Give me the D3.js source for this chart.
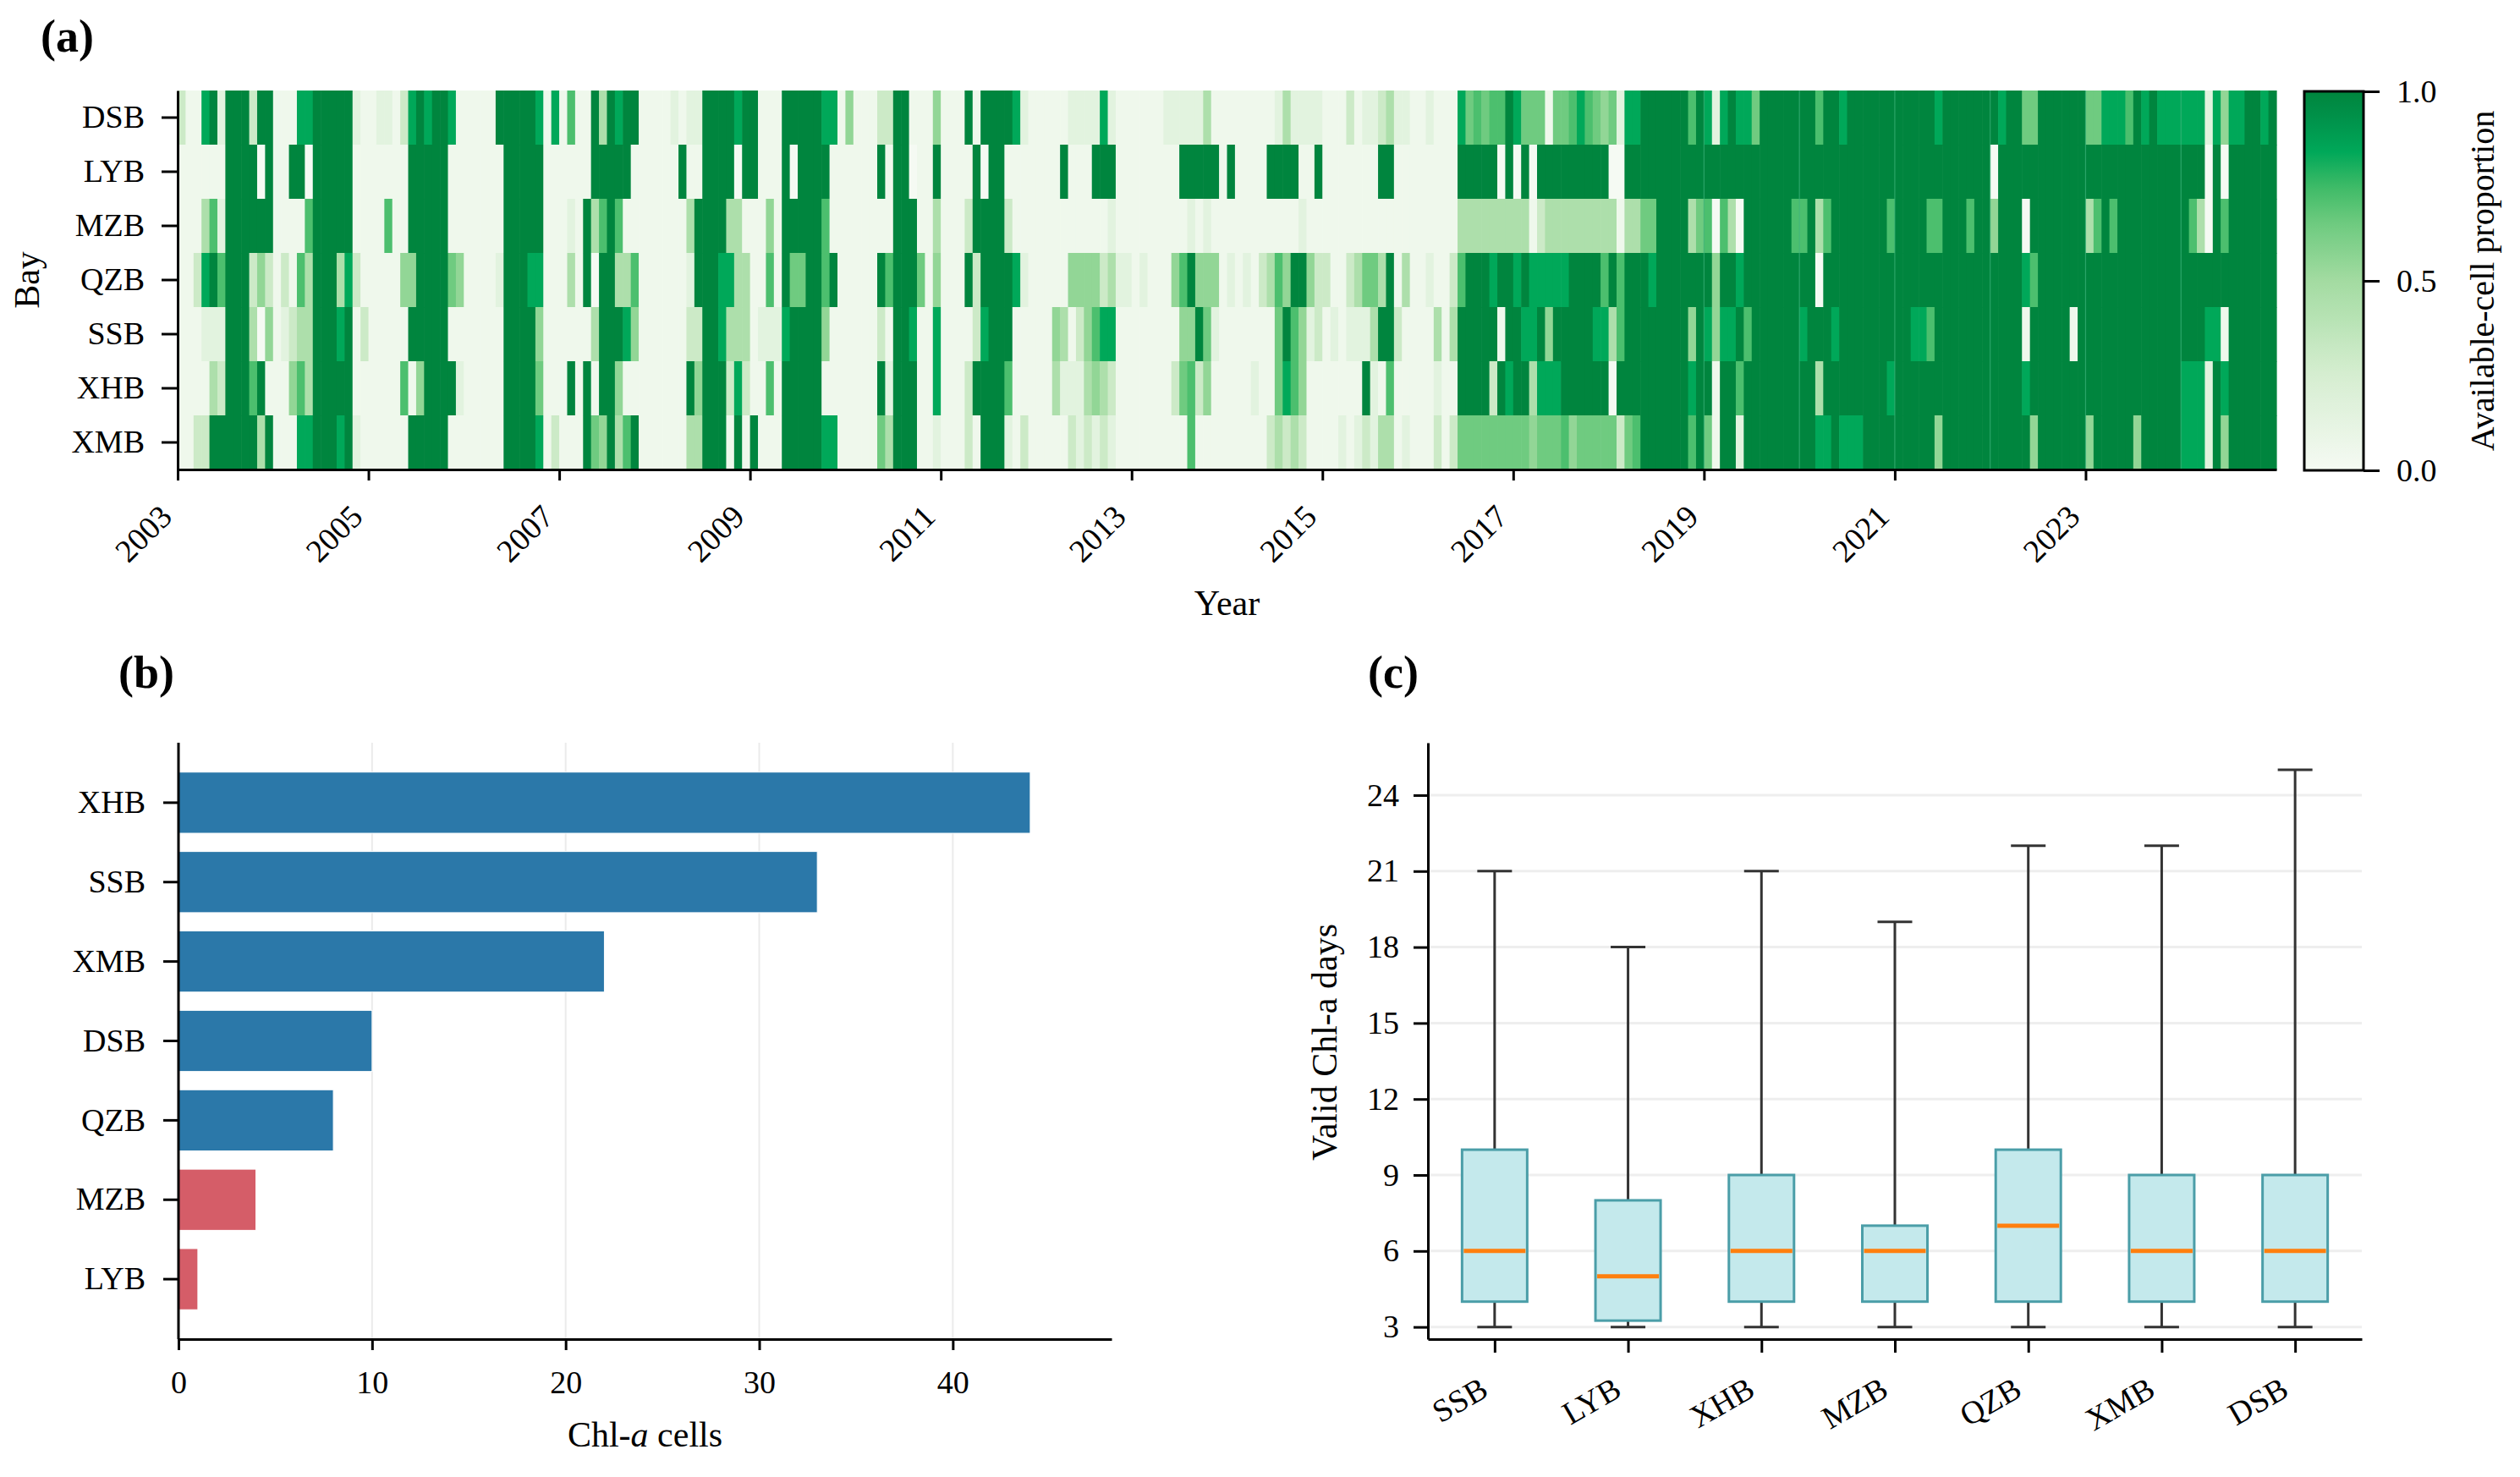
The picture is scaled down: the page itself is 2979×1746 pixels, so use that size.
<!DOCTYPE html>
<html>
<head>
<meta charset="utf-8">
<script src="https://cdn.jsdelivr.net/npm/d3@7"></script>
<style>
  body { margin: 0; background: #fff; }
  svg text { font-family: 'Liberation Serif', 'Times New Roman', serif; fill: #000; }
</style>
</head>
<body>
<div id="chart"></div>
<script>
/* Data
-----------------------------------------------------------------------------*/
// (a) monthly available-cell proportion, one 12-char string per year (2003-2024),
// each char is a level index into LEVELS
const bays = ['DSB', 'LYB', 'MZB', 'QZB', 'SSB', 'XHB', 'XMB'];
const startYear = 2003;
const endYear = 2025;
const LEVELS = [0, 0.05, 0.15, 0.3, 0.45, 0.55, 0.65, 0.72, 0.84, 1.0];

const DSB = ['311892999399', '111889999921', '122138989981', '111199999818', '171194989911', '112122999989',
  '911199999881', '511133991115', '111919999821', '111122228211', '111122222411', '111111242222',
  '111312234221', '121118676779', '866616678765', '628899999979', '828988699999', '997998999999',
  '999998999999', '989966999999', '668887989888', '888285889989'];
const LYB = ['111111999909', '119909999911', '111119999911', '111119999911', '111199999111', '111911999909',
  '911190999911', '111191990119', '111190991111', '111911199911', '111111999991', '911119999119',
  '111111199111', '111119999909', '090999999999', '009999999999', '999999999999', '999999999999',
  '999999999999', '099999999999', '999999999999', '999090999999'];
const MZB = ['111472999999', '111179999911', '117119999911', '111119999911', '121947971111', '111149999441',
  '115199999711', '111111999114', '111399993111', '111111111211', '111111121211', '111111111211',
  '111111111111', '111114444444', '441344444444', '414466999946', '707409999997', '794799999997',
  '999977999799', '599909999999', '479799999999', '974097999999'];
const QZB = ['113897999353', '131749994831', '111155999965', '111129998811', '141909944711', '111129998844',
  '117196699791', '111197999615', '111939999821', '111155553422', '121115795551', '212134759953',
  '311346649141', '121137999899', '898888899997', '979998999999', '959989999999', '990999999999',
  '999999999999', '999987999999', '999999999999', '999999999999'];
const SSB = ['111222999405', '123449998913', '111119999911', '111119999511', '111149998511', '111133998444',
  '122289999511', '111131998118', '111138999111', '115413578811', '111111559621', '111111697523',
  '121222499311', '114149999919', '988959999988', '479999999959', '858897999999', '899989999999',
  '998879999999', '999919999919', '999999999999', '999881999999'];
const XHB = ['111143999791', '115749999911', '111171599992', '111119999611', '191919951111', '111195999383',
  '117199999111', '111192999118', '111399997111', '114222454311', '111113673511', '111211687511',
  '111119217111', '112119999398', '994888999999', '099999999989', '919979999999', '994999999998',
  '999999999999', '999989999999', '999999999999', '888298999999'];
const XMB = ['113399999949', '111889998921', '111119999911', '111119999813', '111965947911', '111144999191',
  '911199999881', '111164999112', '111319992131', '111132323211', '111111171111', '111113434311',
  '112123244121', '113136666666', '665666756666', '636799999979', '619929999999', '998898889999',
  '999995999999', '999995999999', '599999599999', '888295999999'];

const yearTicks = [2003, 2005, 2007, 2009, 2011, 2013, 2015, 2017, 2019, 2021, 2023];
const seamYears = [2019, 2020, 2021, 2022, 2023, 2024];
const colourbarTicks = [0, 0.5, 1.0];

// (b) Chl-a cells per bay
const cellBays = ['XHB', 'SSB', 'XMB', 'DSB', 'QZB', 'MZB', 'LYB'];
const cellCounts = [44, 33, 22, 10, 8, 4, 1];
const cellTicks = [0, 10, 20, 30, 40];
const LOW_CELL_THRESHOLD = 5;

// (c) valid Chl-a days per bay (box plot stats)
const boxBays = ['SSB', 'LYB', 'XHB', 'MZB', 'QZB', 'XMB', 'DSB'];
const boxMin = [3, 3, 3, 3, 3, 3, 3];
const boxQ1 = [4, 3.25, 4, 4, 4, 4, 4];
const boxMedian = [6, 5, 6, 6, 7, 6, 6];
const boxQ3 = [10, 8, 9, 7, 10, 9, 9];
const boxMax = [21, 18, 21, 19, 22, 22, 25];
const dayTicks = [3, 6, 9, 12, 15, 18, 21, 24];

const series = { DSB, LYB, MZB, QZB, SSB, XHB, XMB };

/* Setup
-----------------------------------------------------------------------------*/
const width = 2979;
const height = 1746;
const tickFont = 38;
const labelFont = 42;

const svg = d3
  .select('#chart')
  .append('svg')
  .attr('width', width)
  .attr('height', height)
  .attr('xmlns', 'http://www.w3.org/2000/svg');

svg.append('rect').attr('width', width).attr('height', height).attr('fill', '#fff');

const colour = d3
  .scaleLinear()
  .domain([0, 0.25, 0.5, 0.65, 0.75, 0.84, 0.93, 1])
  .range(['#f5faf3', '#d6eed1', '#a3dba1', '#6fcb80', '#3dba66', '#00a859', '#00924a', '#00853e'])
  .clamp(true);

function decode(yearStrings) {
  return yearStrings.join('').split('').map((c) => LEVELS[+c]);
}

function styleAxis(g, fontSize = tickFont) {
  g.selectAll('path, line').attr('stroke', '#000').attr('stroke-width', 3);
  g.selectAll('text').attr('font-size', fontSize).attr('fill', '#000');
  g.attr('font-family', null);
}

function panelLabel(text, x, y) {
  svg
    .append('text')
    .attr('x', x)
    .attr('y', y)
    .attr('font-size', 54)
    .attr('font-weight', 'bold')
    .text(text);
}

/* (a) Heatmap
-----------------------------------------------------------------------------*/
function drawHeatmap() {
  const x = d3.scaleLinear().domain([startYear, endYear]).range([210, 2691]);
  const y = d3.scaleBand().domain(bays).range([107, 555]);
  const monthWidth = x(startYear + 1 / 12) - x(startYear);

  const cells = svg.append('g').attr('class', 'cells');

  bays.forEach((bay) => {
    cells
      .selectAll(null)
      .data(decode(series[bay]))
      .enter()
      .append('rect')
      .attr('x', (v, i) => x(startYear + i / 12))
      .attr('y', y(bay))
      .attr('width', monthWidth + 0.6)
      .attr('height', y.bandwidth() + 0.5)
      .attr('fill', (v) => colour(v));
  });

  // faint seams between yearly blocks in the later years
  cells
    .selectAll('line.seam')
    .data(seamYears)
    .enter()
    .append('line')
    .attr('class', 'seam')
    .attr('x1', (d) => x(d))
    .attr('x2', (d) => x(d))
    .attr('y1', 107)
    .attr('y2', 555)
    .attr('stroke', '#3cb27a')
    .attr('stroke-opacity', 0.7)
    .attr('stroke-width', 1.2);

  const xAxis = svg
    .append('g')
    .attr('transform', 'translate(0,555)')
    .call(
      d3.axisBottom(x).tickValues(yearTicks).tickFormat(d3.format('d')).tickSize(13).tickSizeOuter(0)
    );
  styleAxis(xAxis);
  xAxis
    .selectAll('text')
    .attr('y', null)
    .attr('dy', null)
    .attr('text-anchor', 'end')
    .attr('transform', 'translate(-5,58) rotate(-45)');

  const yAxis = svg
    .append('g')
    .attr('transform', 'translate(210,0)')
    .call(d3.axisLeft(y).tickSize(19).tickPadding(20).tickSizeOuter(0));
  styleAxis(yAxis);

  svg
    .append('text')
    .attr('x', (x.range()[0] + x.range()[1]) / 2)
    .attr('y', 727)
    .attr('text-anchor', 'middle')
    .attr('font-size', labelFont)
    .text('Year');

  svg
    .append('text')
    .attr('transform', 'translate(46,331) rotate(-90)')
    .attr('text-anchor', 'middle')
    .attr('font-size', labelFont)
    .text('Bay');

  // colourbar
  const cb = { x: 2724, w: 70, top: 108, bottom: 556 };
  const gradient = svg
    .append('defs')
    .append('linearGradient')
    .attr('id', 'cbGradient')
    .attr('x1', 0)
    .attr('y1', 1)
    .attr('x2', 0)
    .attr('y2', 0);

  gradient
    .selectAll('stop')
    .data(d3.range(0, 1.0001, 0.02))
    .enter()
    .append('stop')
    .attr('offset', (d) => d)
    .attr('stop-color', (d) => colour(d));

  svg
    .append('rect')
    .attr('x', cb.x)
    .attr('y', cb.top)
    .attr('width', cb.w)
    .attr('height', cb.bottom - cb.top)
    .attr('fill', 'url(#cbGradient)')
    .attr('stroke', '#000')
    .attr('stroke-width', 3);

  const cbScale = d3.scaleLinear().domain([0, 1]).range([cb.bottom, cb.top]);
  const cbAxis = svg
    .append('g')
    .attr('transform', `translate(${cb.x + cb.w},0)`)
    .call(
      d3.axisRight(cbScale).tickValues(colourbarTicks).tickFormat(d3.format('.1f')).tickSize(19).tickPadding(20).tickSizeOuter(0)
    );
  styleAxis(cbAxis);
  cbAxis.select('.domain').remove();

  svg
    .append('text')
    .attr('transform', `translate(2948,${(cb.top + cb.bottom) / 2}) rotate(-90)`)
    .attr('text-anchor', 'middle')
    .attr('font-size', 40)
    .text('Available-cell proportion');

  panelLabel('(a)', 48, 61);
}

/* (b) Chl-a cells
-----------------------------------------------------------------------------*/
function drawCells() {
  const x = d3.scaleLinear().domain([0, 48.2]).range([211, 1314]);
  const y = d3.scaleBand().domain(cellBays).range([878, 1583]).paddingInner(0.23).paddingOuter(0.37);

  svg
    .append('g')
    .selectAll('line')
    .data(cellTicks.slice(1))
    .enter()
    .append('line')
    .attr('x1', (d) => x(d))
    .attr('x2', (d) => x(d))
    .attr('y1', 878)
    .attr('y2', 1583)
    .attr('stroke', '#ebebeb')
    .attr('stroke-width', 2);

  svg
    .append('g')
    .selectAll('rect')
    .data(cellBays)
    .enter()
    .append('rect')
    .attr('x', x(0))
    .attr('y', (d) => y(d))
    .attr('width', (d, i) => x(cellCounts[i]) - x(0))
    .attr('height', y.bandwidth())
    .attr('fill', (d, i) => (cellCounts[i] < LOW_CELL_THRESHOLD ? '#d55d68' : '#2b78a9'))
    .attr('stroke', '#ffffff')
    .attr('stroke-width', 1);

  const xAxis = svg
    .append('g')
    .attr('transform', 'translate(0,1583)')
    .call(d3.axisBottom(x).tickValues(cellTicks).tickSize(13).tickPadding(24).tickSizeOuter(0));
  styleAxis(xAxis);

  const yAxis = svg
    .append('g')
    .attr('transform', `translate(${x(0)},0)`)
    .call(d3.axisLeft(y).tickSize(18).tickPadding(21).tickSizeOuter(0));
  styleAxis(yAxis);
  yAxis.select('.domain').attr('d', `M0,878V1583`);

  const label = svg
    .append('text')
    .attr('x', (x.range()[0] + x.range()[1]) / 2)
    .attr('y', 1710)
    .attr('text-anchor', 'middle')
    .attr('font-size', labelFont);
  label.append('tspan').text('Chl-');
  label.append('tspan').attr('font-style', 'italic').text('a');
  label.append('tspan').text(' cells');

  panelLabel('(b)', 140, 813);
}

/* (c) Valid Chl-a days
-----------------------------------------------------------------------------*/
function drawBoxes() {
  const x = d3.scalePoint().domain(boxBays).range([1688, 2792]).padding(0.5);
  const y = d3.scaleLinear().domain([2.52, 26.07]).range([1583, 878]);
  const boxWidth = 77;
  const capWidth = 41;

  svg
    .append('g')
    .selectAll('line')
    .data(dayTicks)
    .enter()
    .append('line')
    .attr('x1', 1688)
    .attr('x2', 2792)
    .attr('y1', (d) => y(d))
    .attr('y2', (d) => y(d))
    .attr('stroke', '#eeeeee')
    .attr('stroke-width', 3);

  const boxes = svg
    .append('g')
    .selectAll('g')
    .data(boxBays)
    .enter()
    .append('g')
    .attr('transform', (d) => `translate(${x(d)},0)`);

  // whiskers
  boxes
    .append('line')
    .attr('y1', (d, i) => y(boxQ3[i]))
    .attr('y2', (d, i) => y(boxMax[i]))
    .attr('stroke', '#333')
    .attr('stroke-width', 3);
  boxes
    .append('line')
    .attr('y1', (d, i) => y(boxQ1[i]))
    .attr('y2', (d, i) => y(boxMin[i]))
    .attr('stroke', '#333')
    .attr('stroke-width', 3);
  boxes
    .append('line')
    .attr('x1', -capWidth / 2)
    .attr('x2', capWidth / 2)
    .attr('y1', (d, i) => y(boxMax[i]))
    .attr('y2', (d, i) => y(boxMax[i]))
    .attr('stroke', '#333')
    .attr('stroke-width', 3);
  boxes
    .append('line')
    .attr('x1', -capWidth / 2)
    .attr('x2', capWidth / 2)
    .attr('y1', (d, i) => y(boxMin[i]))
    .attr('y2', (d, i) => y(boxMin[i]))
    .attr('stroke', '#333')
    .attr('stroke-width', 3);

  boxes
    .append('rect')
    .attr('x', -boxWidth / 2)
    .attr('y', (d, i) => y(boxQ3[i]))
    .attr('width', boxWidth)
    .attr('height', (d, i) => y(boxQ1[i]) - y(boxQ3[i]))
    .attr('fill', '#c4e9ec')
    .attr('stroke', '#4b9ea8')
    .attr('stroke-width', 3);

  boxes
    .append('line')
    .attr('x1', -boxWidth / 2 + 2)
    .attr('x2', boxWidth / 2 - 2)
    .attr('y1', (d, i) => y(boxMedian[i]))
    .attr('y2', (d, i) => y(boxMedian[i]))
    .attr('stroke', '#ff7f0e')
    .attr('stroke-width', 5);

  const xAxis = svg
    .append('g')
    .attr('transform', 'translate(0,1583)')
    .call(d3.axisBottom(x).tickSize(16).tickSizeOuter(0));
  styleAxis(xAxis);
  xAxis
    .selectAll('text')
    .attr('y', null)
    .attr('dy', null)
    .attr('text-anchor', 'end')
    .attr('transform', 'translate(-6,66) rotate(-30)');

  const yAxis = svg
    .append('g')
    .attr('transform', 'translate(1688,0)')
    .call(d3.axisLeft(y).tickValues(dayTicks).tickSize(17).tickPadding(17).tickSizeOuter(0));
  styleAxis(yAxis);

  svg
    .append('text')
    .attr('transform', 'translate(1580,1232) rotate(-90)')
    .attr('text-anchor', 'middle')
    .attr('font-size', labelFont)
    .text('Valid Chl-a days');

  panelLabel('(c)', 1617, 813);
}

/* Initialize
-----------------------------------------------------------------------------*/
function initialize() {
  drawHeatmap();
  drawCells();
  drawBoxes();
}
initialize();
</script>
</body>
</html>
